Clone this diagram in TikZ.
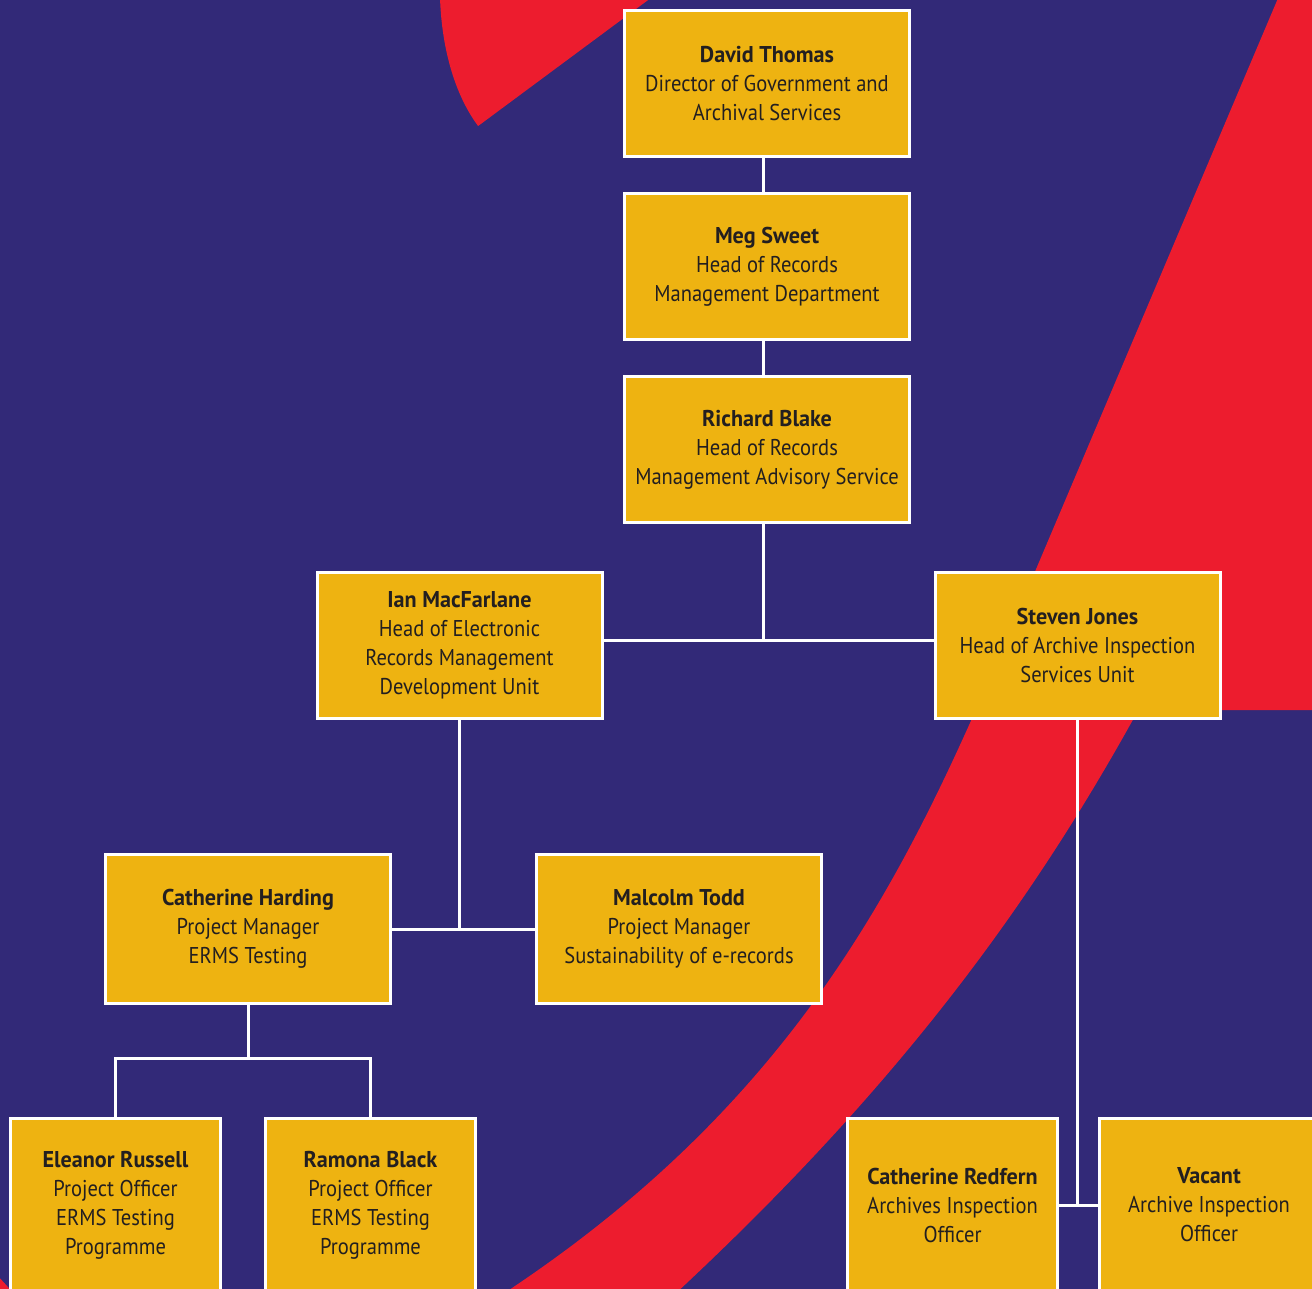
\documentclass[tikz,border=0pt]{standalone}
\usepackage{fontspec}
\setmainfont{PT Sans}[FakeStretch=0.9,BoldFeatures={FakeStretch=0.97}]
\usepackage{tikz}
\usetikzlibrary{arrows,positioning,backgrounds}
\definecolor{nightblue}{RGB}{50,41,120}
\definecolor{signalred}{RGB}{237,28,46}
\definecolor{boxgold}{RGB}{238,179,17}
\definecolor{inkgray}{RGB}{35,31,32}
\tikzstyle{block} = [rectangle,draw=white,line width=0.6mm,fill=boxgold,text=inkgray,align=center,minimum width=5.7cm,minimum height=2.92cm,font=\fontsize{13}{16.5}\selectfont]
\tikzstyle{small block} = [block,minimum width=4.2cm,minimum height=3.46cm]
\tikzstyle{link} = [draw=white,line width=0.6mm]

\begin{document}
\begin{tikzpicture}[auto,node distance = 3.66cm]
    % background and the red swooshes
    \useasboundingbox (0,0) rectangle (26.24,-25.78);
    \fill [nightblue] (0,0) rectangle (26.24,-25.78);
    \begin{scope}[x=0.02cm,y=-0.02cm]
    \fill [signalred] (440,0) .. controls (442,50) and (455,95) .. (478,126) -- (648,0) -- cycle;
    \fill [signalred] (1277,0) -- (1312,0) -- (1312,710) -- (1138,710)
        .. controls (1028,910) and (894,1089) .. (680,1289) -- (510,1289)
        .. controls (832,1074) and (929,821) .. (1035,571) -- cycle;
    \fill [signalred] (0,1278) -- (10,1289) -- (0,1289) -- cycle;
    \end{scope}

    % We start by placing the blocks
    \node [block, name=david] at (15.34,-1.67) {\textbf{David Thomas}\\Director of Government and\\Archival Services};
    \node [block, below of=david] (meg) {\textbf{Meg Sweet}\\Head of Records\\Management Department};
    \node [block, below of=meg] (richard) {\textbf{Richard Blake}\\Head of Records\\Management Advisory Service};
    \node [block, below of=richard, xshift=-6.15cm, yshift=-0.25cm] (ian) {\textbf{Ian MacFarlane}\\Head of Electronic\\Records Management\\Development Unit};
    \node [block, below of=richard, xshift=6.21cm, yshift=-0.25cm] (steven) {\textbf{Steven Jones}\\Head of Archive Inspection\\Services Unit};
    \node [block, below of=ian, xshift=-4.23cm, yshift=-2.02cm, minimum height=2.98cm] (harding) {\textbf{Catherine Harding}\\Project Manager\\ERMS Testing};
    \node [block, right of=harding, xshift=4.96cm, minimum height=2.98cm] (todd) {\textbf{Malcolm Todd}\\Project Manager\\Sustainability of e-records};
    \node [small block, below of=harding, xshift=-2.65cm, yshift=-1.86cm] (eleanor) {\textbf{Eleanor Russell}\\Project Officer\\ERMS Testing\\Programme};
    \node [small block, right of=eleanor, xshift=1.44cm] (ramona) {\textbf{Ramona Black}\\Project Officer\\ERMS Testing\\Programme};
    \node [small block, below of=steven, xshift=-2.5cm, yshift=-7.54cm] (redfern) {\textbf{Catherine Redfern}\\Archives Inspection\\Officer};
    \node [small block, right of=redfern, xshift=1.47cm, minimum width=4.4cm] (vacant) {\textbf{Vacant}\\Archive Inspection\\Officer};

    % Once the nodes are placed, connecting them is easy.
    \coordinate (fork) at ([yshift=-1.06cm]harding.south);
    \draw [link] ([xshift=-0.8mm]david.south) -- ([xshift=-0.8mm]meg.north);
    \draw [link] ([xshift=-0.8mm]meg.south) -- ([xshift=-0.8mm]richard.north);
    \draw [link] ([xshift=-0.8mm]richard.south) -- ([xshift=-0.8mm,yshift=1mm]richard.south |- ian.east);
    \draw [link] ([yshift=1mm]ian.east) -- ([yshift=1mm]steven.west);
    \draw [link] (ian.south) -- (ian.south |- harding.east);
    \draw [link] (harding.east) -- (todd.west);
    \draw [link] (harding.south) -- (fork);
    \draw [link] (eleanor.north) |- (fork) -| (ramona.north);
    \draw [link] (steven.south) -- (steven.south |- vacant.west);
    \draw [link] (redfern.east) -- (vacant.west);

\end{tikzpicture}
\end{document}
